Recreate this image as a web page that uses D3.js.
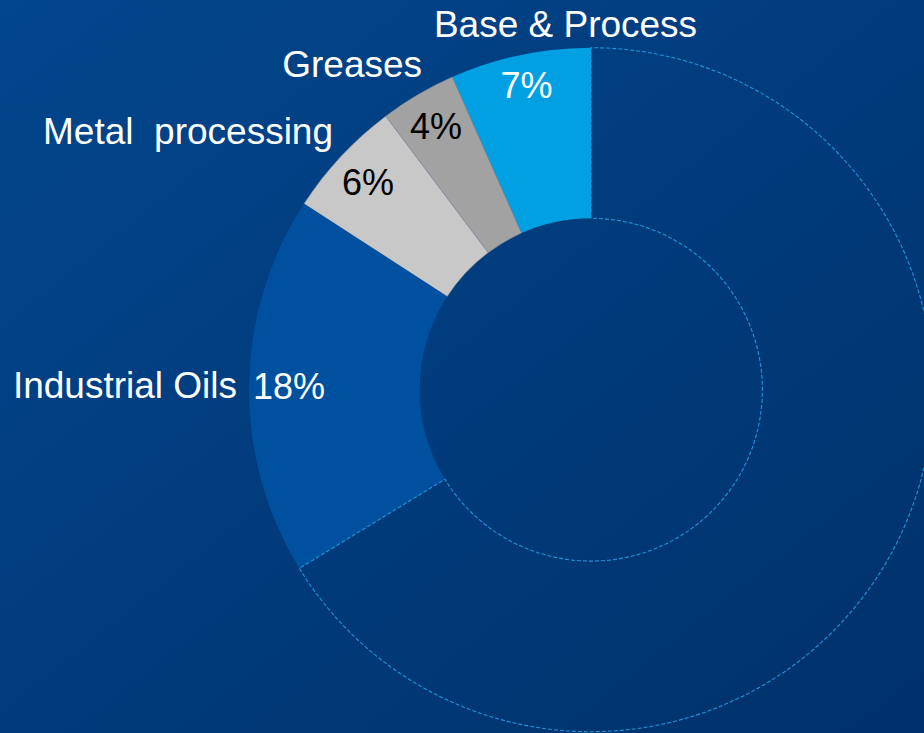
<!DOCTYPE html>
<html><head><meta charset="utf-8">
<script src="https://cdn.jsdelivr.net/npm/d3@7/dist/d3.min.js"></script>
<style>html,body{margin:0;padding:0;overflow:hidden;background:#013b7c}</style>
</head><body>
<svg id="chart" width="924" height="733"></svg>
<script>
// Data
const categories = ["Base & Process", "Greases", "Metal  processing", "Industrial Oils", "Other"];
const values = [6.65, 3.6, 5.6, 17.9, 66.25];
const pctLabels = ["7%", "4%", "6%", "18%", ""];
const colors = ["#00a0e2", "#a2a2a2", "#c8c8c8", "#0050a0", "none"];
const pctColors = ["#ffffff", "#000000", "#000000", "#ffffff", "#ffffff"];
// category label offsets relative to the percentage label anchor [dx, dy, anchor]
const catOffsets = [[39, -62, "middle"], [-14, -62, "end"], [-35, -51, "end"], [-52, -1.5, "end"], [0, 0, "middle"]];
const pctRadius = [311, 306, 305, 302, 0];

const W = 924, H = 733;
const cx = 591, cy = 389.7, R = 342, r0 = 171.4;
const svg = d3.select("#chart");

const defs = svg.append("defs");
const grad = defs.append("linearGradient").attr("id", "bg")
  .attr("x1", "0").attr("y1", "0").attr("x2", "1").attr("y2", "1");
grad.append("stop").attr("offset", "0%").attr("stop-color", "#02468e");
grad.append("stop").attr("offset", "100%").attr("stop-color", "#00316a");
svg.append("rect").attr("width", W).attr("height", H).attr("fill", "url(#bg)");

const pie = d3.pie().sort(null).startAngle(0).endAngle(-2 * Math.PI);
const arcs = pie(values);
const arc = d3.arc().innerRadius(r0).outerRadius(R);

const g = svg.append("g").attr("transform", `translate(${cx},${cy})`);

g.selectAll("path.slice").data(arcs).join("path")
  .attr("class", "slice")
  .attr("d", arc)
  .attr("fill", (d, i) => colors[i])
  .attr("stroke", (d, i) => i === 4 ? "#1e96d8" : (i === 1 || i === 2 ? "#7d8a9a" : "none"))
  .attr("stroke-width", (d, i) => i === 4 ? 1.1 : 0.6)
  .attr("stroke-dasharray", (d, i) => i === 4 ? "4 2" : null);

// percentage labels
const pctPos = arcs.map((d, i) => {
  const a = (d.startAngle + d.endAngle) / 2;
  return [Math.sin(a) * pctRadius[i], -Math.cos(a) * pctRadius[i]];
});

g.selectAll("text.pct").data(arcs.slice(0, 4)).join("text")
  .attr("class", "pct")
  .attr("x", (d, i) => pctPos[i][0])
  .attr("y", (d, i) => pctPos[i][1])
  .attr("dy", "0.36em")
  .attr("text-anchor", "middle")
  .attr("font-family", "Liberation Sans, Arial, sans-serif")
  .attr("font-size", 36)
  .attr("fill", (d, i) => pctColors[i])
  .text((d, i) => pctLabels[i]);

g.selectAll("text.cat").data(arcs.slice(0, 4)).join("text")
  .attr("class", "cat")
  .attr("x", (d, i) => pctPos[i][0] + catOffsets[i][0])
  .attr("y", (d, i) => pctPos[i][1] + catOffsets[i][1])
  .attr("dy", "0.36em")
  .attr("text-anchor", (d, i) => catOffsets[i][2])
  .attr("font-family", "Liberation Sans, Arial, sans-serif")
  .attr("font-size", 37)
  .attr("fill", "#ffffff")
  .attr("xml:space", "preserve")
  .style("white-space", "pre")
  .text((d, i) => categories[i]);
</script>
</body></html>
